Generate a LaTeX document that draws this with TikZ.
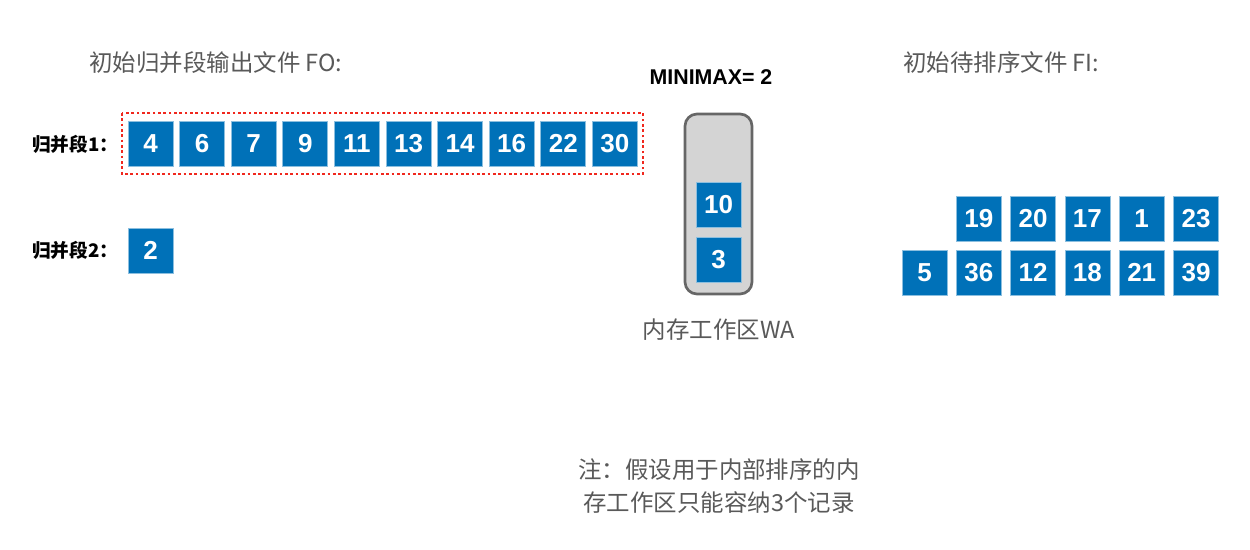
\documentclass[tikz,border=0pt]{standalone}
\usepackage{fontspec}
\setmainfont{Liberation Sans}
\newfontfamily\cjk{Noto Sans CJK SC}
\definecolor{boxblue}{HTML}{0071B8}
\definecolor{txtgray}{HTML}{595959}
\definecolor{wafill}{HTML}{D4D4D4}
\definecolor{waedge}{HTML}{666666}
\definecolor{dotred}{HTML}{F0281E}
\tikzset{
  rec/.style={fill=boxblue, draw=boxblue!45, line width=0.6pt, minimum width=33.75pt, minimum height=33.75pt, inner sep=0pt, text=white, font=\fontsize{19.5}{22}\selectfont\bfseries},
  graytxt/.style={text=txtgray, font=\cjk\fontsize{17.6}{21}\selectfont, inner sep=0pt},
  lbl/.style={text=black, font=\cjk\fontsize{14}{16}\selectfont\bfseries, inner sep=0pt, anchor=west}
}
\begin{document}
\begin{tikzpicture}[x=0.75pt,y=-0.75pt]
\useasboundingbox (0,0) rectangle (1250,550);
% titles
\node[graytxt, anchor=west] (tfo) at (89,63) {初始归并段输出文件 FO:};
\node[graytxt, anchor=west] (tfi) at (903,63) {初始待排序文件 FI:};
\node[font=\fontsize{16}{19}\selectfont\bfseries, inner sep=0pt] (mm) at (711,77) {MINIMAX= 2};
% run 1
\node[lbl] (l1) at (32,144) {归并段1：};
\foreach \v [count=\i from 0] in {4,6,7,9,11,13,14,16,22,30} {
  \node[rec] (r\i) at ({150.5+51.6*\i},143.5) {\v};
}
\draw[dotred, line width=2.2pt, dash pattern=on 2pt off 2pt] (122,113) rectangle (643,174);
% run 2
\node[lbl] (l2) at (32,250) {归并段2：};
\node[rec] (s0) at (150.5,250.5) {2};
% work area
\draw[waedge, fill=wafill, line width=2pt, rounded corners=9pt] (685,114) rectangle (752,294);
\node[rec] (w1) at (718.5,204.5) {10};
\node[rec] (w2) at (718.5,259.5) {3};
\node[graytxt] (wa) at (719,330) {内存工作区WA};
% input file
\foreach \v [count=\i from 1] in {19,20,17,1,23} {
  \node[rec] (a\i) at ({924.5+54.3*\i},218.5) {\v};
}
\foreach \v [count=\i from 0] in {5,36,12,18,21,39} {
  \node[rec] (b\i) at ({924.5+54.3*\i},272.5) {\v};
}
% note
\node[graytxt] (n1) at (719,470) {注：假设用于内部排序的内};
\node[graytxt] (n2) at (719,503) {存工作区只能容纳3个记录};
\end{tikzpicture}
\end{document}
